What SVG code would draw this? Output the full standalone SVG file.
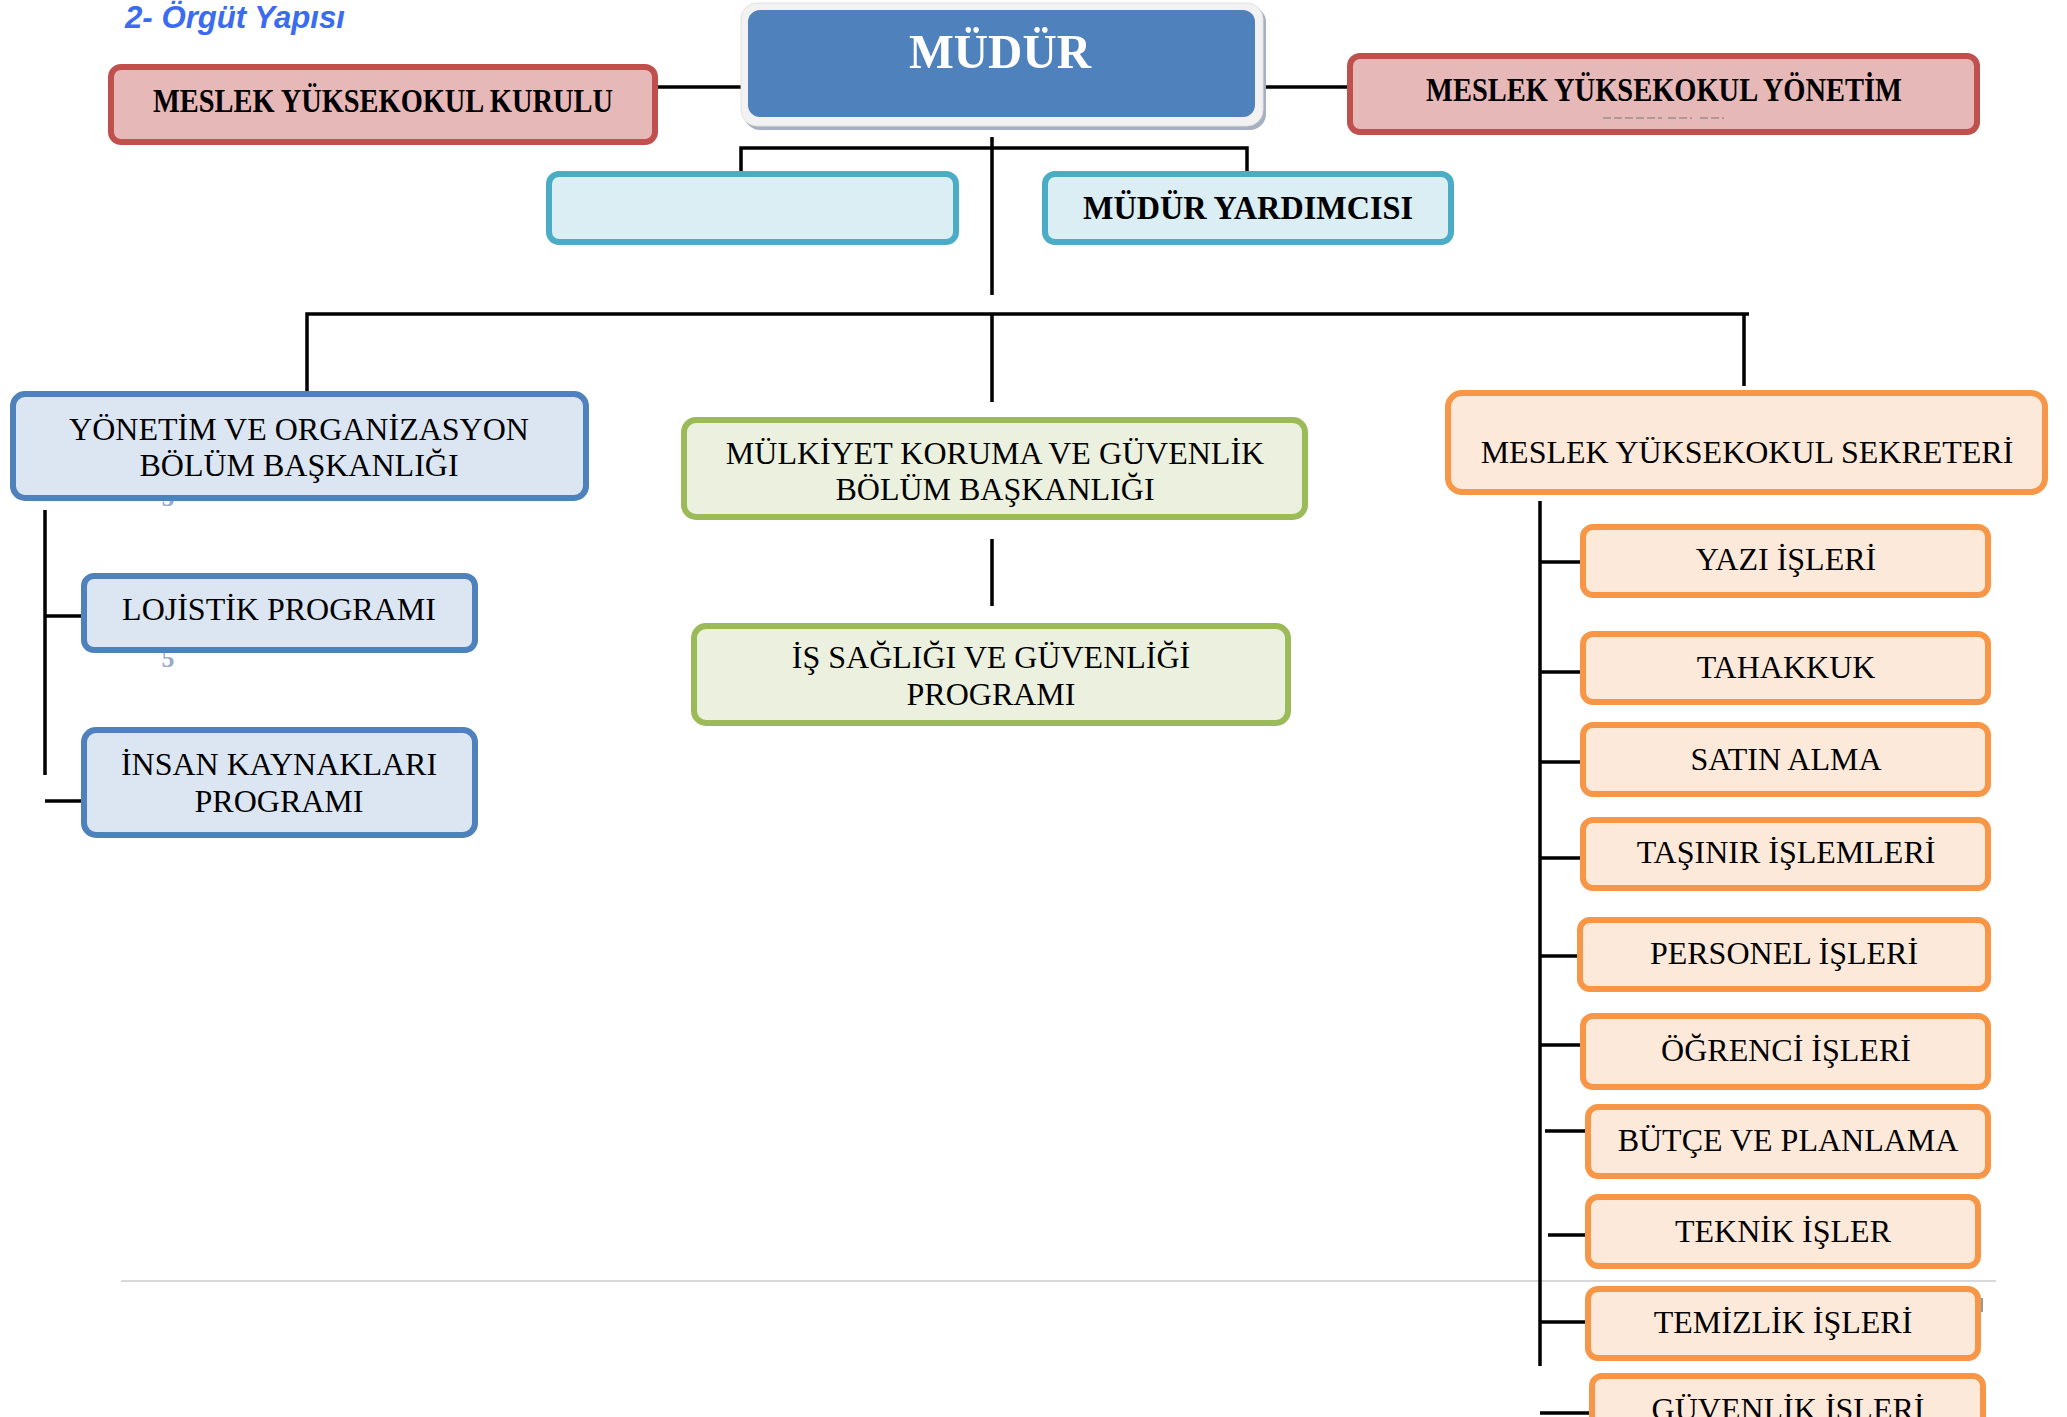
<svg xmlns="http://www.w3.org/2000/svg" width="2067" height="1417" viewBox="0 0 2067 1417">
<style>
.t{font-family:"Liberation Serif","Times New Roman",serif;font-size:32px;fill:#000;text-anchor:middle}
.b{font-family:"Liberation Serif","Times New Roman",serif;font-weight:bold;font-size:34px;fill:#000;text-anchor:middle}
.red{fill:#E6B8B7;stroke:#C0504D;stroke-width:6}
.cy{fill:#DAEEF3;stroke:#4BACC6;stroke-width:6}
.bl{fill:#DCE6F2;stroke:#4F81BD;stroke-width:6}
.gr{fill:#EBF1DE;stroke:#9BBB59;stroke-width:6}
.or{fill:#FDE9D9;stroke:#F79646;stroke-width:6}
.c{stroke:#000;stroke-width:3.5;fill:none}
</style>
<rect width="2067" height="1417" fill="#fff"/>
<text x="125" y="28" font-family="Liberation Sans,Arial,sans-serif" font-weight="bold" font-style="italic" font-size="31" fill="#3A6BF0" textLength="220" lengthAdjust="spacingAndGlyphs">2- Örgüt Yapısı</text>
<line x1="121" y1="1281" x2="1996" y2="1281" stroke="#D9D9D9" stroke-width="2"/>
<rect x="1979" y="1298" width="4" height="14" fill="#999"/>
<text x="168" y="506" font-family="Liberation Serif,serif" font-weight="bold" font-size="26" fill="#9AAAC8" text-anchor="middle">5</text>
<text x="168" y="667" font-family="Liberation Serif,serif" font-weight="bold" font-size="26" fill="#9AAAC8" text-anchor="middle">5</text>
<g id="connectors">
<path class="c" d="M655 87H744M1259 87H1352"/>
<path class="c" d="M992 137V295M741 173V148H1247V173"/>
<path class="c" d="M307 392V314H1749M1744 314V386M992 314V402"/>
<path class="c" d="M992 539V606"/>
<path class="c" d="M45 510V775M45 616H85M45 801H85"/>
<path class="c" d="M1540 501V1366M1540 562H1584M1540 672H1584M1540 762H1584M1540 858H1584M1540 956H1581M1540 1045H1584M1545 1131H1589M1548 1235H1589M1540 1322H1589M1540 1413H1593"/>
</g>
<g id="n-kurulu">
<rect class="red" x="111" y="67" width="544" height="75" rx="10"/>
<text class="b" x="383" y="112" textLength="460" lengthAdjust="spacingAndGlyphs">MESLEK YÜKSEKOKUL KURULU</text>
</g>
<g id="n-mudur">
<rect x="744" y="6" width="522" height="124" rx="16" fill="#A6B0C0"/>
<rect x="741" y="3" width="522" height="123" rx="16" fill="#F2F2F2" stroke="#E0E0E0" stroke-width="1"/>
<rect x="748" y="10" width="507" height="107" rx="12" fill="#4F81BD"/>
<text x="1000" y="68" font-family="Liberation Serif,serif" font-weight="bold" font-size="49" fill="#fff" text-anchor="middle" textLength="182" lengthAdjust="spacingAndGlyphs">MÜDÜR</text>
</g>
<g id="n-yonetim">
<rect class="red" x="1350" y="56" width="627" height="76" rx="10"/>
<text class="b" x="1664" y="101" textLength="476" lengthAdjust="spacingAndGlyphs">MESLEK YÜKSEKOKUL YÖNETİM</text>
<path d="M1603 118H1662M1668 118H1692M1700 118H1724" stroke="#777" stroke-width="1.2" stroke-dasharray="8 3"/>
</g>
<g id="n-blank">
<rect class="cy" x="549" y="174" width="407" height="68" rx="10"/>
</g>
<g id="n-yardimci">
<rect class="cy" x="1045" y="174" width="406" height="68" rx="10"/>
<text class="b" x="1248" y="219" textLength="330" lengthAdjust="spacingAndGlyphs">MÜDÜR YARDIMCISI</text>
</g>
<g id="n-yob">
<rect class="bl" x="13" y="394" width="573" height="104" rx="12"/>
<text class="t" x="299" y="440">YÖNETİM VE ORGANİZASYON</text>
<text class="t" x="299" y="476">BÖLÜM BAŞKANLIĞI</text>
</g>
<g id="n-lojistik">
<rect class="bl" x="84" y="576" width="391" height="74" rx="10"/>
<text class="t" x="279" y="620">LOJİSTİK PROGRAMI</text>
</g>
<g id="n-insan">
<rect class="bl" x="84" y="730" width="391" height="105" rx="12"/>
<text class="t" x="279" y="775">İNSAN KAYNAKLARI</text>
<text class="t" x="279" y="812">PROGRAMI</text>
</g>
<g id="n-mulkiyet">
<rect class="gr" x="684" y="420" width="621" height="97" rx="12"/>
<text class="t" x="995" y="464">MÜLKİYET KORUMA VE GÜVENLİK</text>
<text class="t" x="995" y="500">BÖLÜM BAŞKANLIĞI</text>
</g>
<g id="n-isg">
<rect class="gr" x="694" y="626" width="594" height="97" rx="12"/>
<text class="t" x="991" y="668">İŞ SAĞLIĞI VE GÜVENLİĞİ</text>
<text class="t" x="991" y="705">PROGRAMI</text>
</g>
<g id="n-sekreter">
<rect class="or" x="1448" y="393" width="597" height="99" rx="14"/>
<text class="t" x="1747" y="463">MESLEK YÜKSEKOKUL SEKRETERİ</text>
</g>
<g id="n-yazi"><rect class="or" x="1583" y="527" width="405" height="68" rx="10"/><text class="t" x="1786" y="570">YAZI İŞLERİ</text></g>
<g id="n-tahakkuk"><rect class="or" x="1583" y="634" width="405" height="68" rx="10"/><text class="t" x="1786" y="678">TAHAKKUK</text></g>
<g id="n-satin"><rect class="or" x="1583" y="725" width="405" height="69" rx="10"/><text class="t" x="1786" y="770">SATIN ALMA</text></g>
<g id="n-tasinir"><rect class="or" x="1583" y="820" width="405" height="68" rx="10"/><text class="t" x="1786" y="863">TAŞINIR İŞLEMLERİ</text></g>
<g id="n-personel"><rect class="or" x="1580" y="920" width="408" height="69" rx="10"/><text class="t" x="1784" y="964">PERSONEL İŞLERİ</text></g>
<g id="n-ogrenci"><rect class="or" x="1583" y="1016" width="405" height="71" rx="10"/><text class="t" x="1786" y="1061">ÖĞRENCİ İŞLERİ</text></g>
<g id="n-butce"><rect class="or" x="1588" y="1107" width="400" height="69" rx="10"/><text class="t" x="1788" y="1151">BÜTÇE VE PLANLAMA</text></g>
<g id="n-teknik"><rect class="or" x="1588" y="1197" width="390" height="69" rx="10"/><text class="t" x="1783" y="1242">TEKNİK İŞLER</text></g>
<g id="n-temizlik"><rect class="or" x="1588" y="1289" width="390" height="69" rx="10"/><text class="t" x="1783" y="1333">TEMİZLİK İŞLERİ</text></g>
<g id="n-guvenlik"><rect class="or" x="1592" y="1376" width="391" height="70" rx="10"/><text class="t" x="1788" y="1420">GÜVENLİK İŞLERİ</text></g>
</svg>
